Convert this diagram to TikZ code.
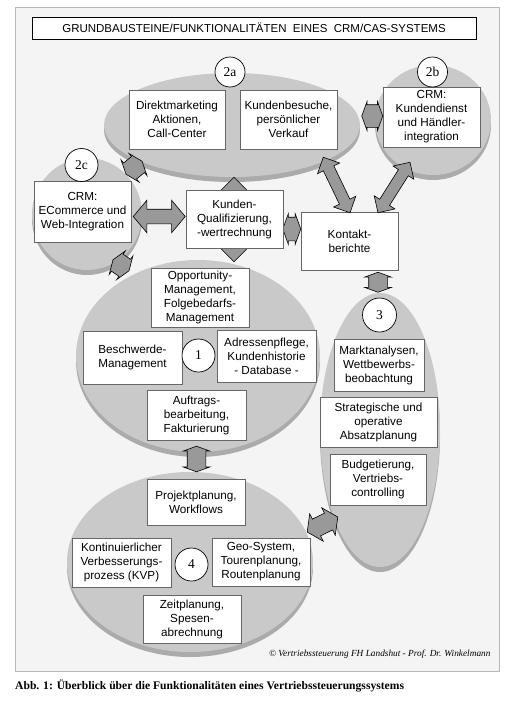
\documentclass[tikz,border=0pt]{standalone}
\usepackage{fontspec}
\setmainfont{Liberation Serif}
\newfontfamily\sansfam{Liberation Sans}
\usetikzlibrary{calc,shapes.geometric,shapes.arrows,shadows}

\tikzset{
  disc/.style={ellipse, fill=gray!42, inner sep=0pt,
    drop shadow={shadow xshift=0pt, shadow yshift=-5pt, opacity=1, fill=gray!66}},
  fbox/.style={draw=black!60, line width=0.5pt, fill=white, align=center, inner sep=1pt,
    font=\sansfam\fontsize{11.7}{14}\selectfont},
  num/.style={circle, draw=black, line width=0.7pt, fill=white, inner sep=0pt,
    minimum size=32pt, font=\fontsize{13.5}{14}\selectfont},
  link/.style={double arrow, draw=black, line width=0.6pt, fill=gray!80,
    inner xsep=0pt, minimum width=1pt}
}

% double arrow between two points: from, to, shaft, head, tip angle
\newcommand\twoway[5]{%
  \path let \p1=#1, \p2=#2,
    \n1={atan2(\y2-\y1,\x2-\x1)}, \n2={veclen(\x2-\x1,\y2-\y1)} in
    node[link, rotate=\n1, minimum height=\n2, inner ysep=#3/2,
      double arrow head extend=#4/2-#3/2, double arrow tip angle=#5]
    at ($(\p1)!0.5!(\p2)$) {};}

\begin{document}
\begin{tikzpicture}[x=1pt,y=-1pt]
\useasboundingbox (0,0) rectangle (531,723);
\fill[white] (0,0) rectangle (531,723);
\draw[gray!55, fill=gray!9] (15,7) rectangle (499,671);

\node[draw, fill=white, line width=0.8pt, minimum width=444pt, minimum height=22pt,
  font=\sansfam\fontsize{11.5}{13}\selectfont] (title) at (254,28)
  {GRUNDBAUSTEINE/FUNKTIONALITÄTEN\ \ EINES\ \ CRM/CAS-SYSTEMS};

% discs
\node[disc, minimum width=256pt, minimum height=104pt] (e2a) at (232,125) {};
\node[disc, minimum width=116pt, minimum height=110pt] (e2b) at (433,120) {};
\node[disc, minimum width=110pt, minimum height=112pt] (e2c) at (87,214) {};
\node[disc, minimum width=120pt, minimum height=274pt] (e3) at (380,430) {};
\node[disc, minimum width=244pt, minimum height=192pt] (e1) at (198,356) {};
\node[disc, minimum width=246pt, minimum height=180pt] (e4) at (190,562) {};

% boxes
\node[fbox, minimum width=96pt, minimum height=59pt] (dm) at (177,119.5) {Direktmarketing\\Aktionen,\\Call-Center};
\node[fbox, minimum width=97pt, minimum height=59pt] (kb) at (288.5,119.5) {Kundenbesuche,\\persönlicher\\Verkauf};
\node[fbox, minimum width=97pt, minimum height=60pt] (kd) at (431.5,117) {CRM:\\Kundendienst\\und Händler-\\integration};
\node[fbox, minimum width=97pt, minimum height=61pt] (ecom) at (82.5,211.5) {CRM:\\ECommerce und\\Web-Integration};
\node[fbox, minimum width=97pt, minimum height=58pt] (kontakt) at (349.5,241) {Kontakt-\\berichte};

% connectors
\twoway{($(e2a.south)+(2,0)$)}{($(e2a.south |- e1.north)+(2,2)$)}{12pt}{28pt}{90}
\twoway{($(kd.west)+(-21,-1)$)}{($(kd.west)+(0,-1)$)}{22pt}{28pt}{140}
\twoway{(e2c.north east)}{($(e2c.north east)+(16,-13)$)}{20pt}{28pt}{140}
\twoway{($(e2c.south east)+(-13,6)$)}{($(e2c.south east)+(3,17)$)}{20pt}{28pt}{140}
\twoway{($(ecom.east)+(2,5)$)}{($(ecom.east)+(54,5)$)}{14pt}{32pt}{100}
\twoway{($(kontakt.west)+(-18,-12)$)}{($(kontakt.west)+(0,-12)$)}{23pt}{30pt}{140}
\twoway{($(kb.south east)+(-14,8)$)}{($(kontakt.north)+(0.5,1)$)}{11pt}{24pt}{90}
\twoway{($(kd.south)+(-21.5,15)$)}{($(kontakt.north)+(28.5,1)$)}{11pt}{24pt}{90}
\twoway{($(kontakt.south)+(28.5,2)$)}{($(kontakt.south)+(28.5,22)$)}{18pt}{26pt}{140}
\twoway{($(e1.south)+(-1.5,-6)$)}{($(e4.north)+(6.5,0)$)}{18pt}{26pt}{140}
\twoway{($(e4.east)+(-6,-30)$)}{($(e3.west)+(18,87)$)}{18pt}{30pt}{112}

\node[fbox, minimum width=97pt, minimum height=58pt] (kunden) at (234.5,219) {Kunden-\\Qualifizierung,\\-wertrechnung};
\node[fbox, minimum width=98pt, minimum height=59pt] (opp) at (200,297.5) {Opportunity-\\Management,\\Folgebedarfs-\\Management};
\node[fbox, minimum width=99pt, minimum height=53pt] (besch) at (132.5,357.5) {Beschwerde-\\Management};
\node[fbox, minimum width=99pt, minimum height=52pt] (adr) at (266.5,356) {Adressenpflege,\\Kundenhistorie\\- Database -};
\node[fbox, minimum width=99pt, minimum height=50pt] (auf) at (196.5,415) {Auftrags-\\bearbeitung,\\Fakturierung};
\node[fbox, minimum width=90pt, minimum height=52pt] (markt) at (379,365) {Marktanalysen,\\Wettbewerbs-\\beobachtung};
\node[fbox, minimum width=117pt, minimum height=50pt] (strat) at (378.5,422) {Strategische und\\operative\\Absatzplanung};
\node[fbox, minimum width=96pt, minimum height=51pt] (budget) at (378,479.5) {Budgetierung,\\Vertriebs-\\controlling};
\node[fbox, minimum width=98pt, minimum height=46pt] (proj) at (196,502) {Projektplanung,\\Workflows};
\node[fbox, minimum width=99pt, minimum height=49pt] (kvp) at (121.5,562.5) {Kontinuierlicher\\Verbesserungs-\\prozess (KVP)};
\node[fbox, minimum width=98pt, minimum height=48pt] (geo) at (261,562) {Geo-System,\\Tourenplanung,\\Routenplanung};
\node[fbox, minimum width=98pt, minimum height=48pt] (zeit) at (192,619) {Zeitplanung,\\Spesen-\\abrechnung};

% numbers
\node[num, minimum size=30pt] (n2a) at (230,72) {2a};
\node[num, minimum size=30pt] (n2b) at (432.5,72) {2b};
\node[num, minimum size=33pt] (n2c) at (81.5,165) {2c};
\node[num, minimum size=33pt] (n1) at (198.5,355.5) {1};
\node[num, minimum size=34pt] (n3) at (379.5,315) {3};
\node[num, minimum size=33pt] (n4) at (191.5,564.5) {4};

\node[anchor=east, font=\itshape\fontsize{9.3}{10}\selectfont] (copy) at (494,654)
  {© Vertriebssteuerung FH Landshut - Prof. Dr. Winkelmann};
\node[anchor=west, inner sep=0pt, font=\bfseries\fontsize{11.6}{13}\selectfont] (caption) at (15,686)
  {Abb. 1: Überblick über die Funktionalitäten eines Vertriebssteuerungssystems};
\end{tikzpicture}
\end{document}
